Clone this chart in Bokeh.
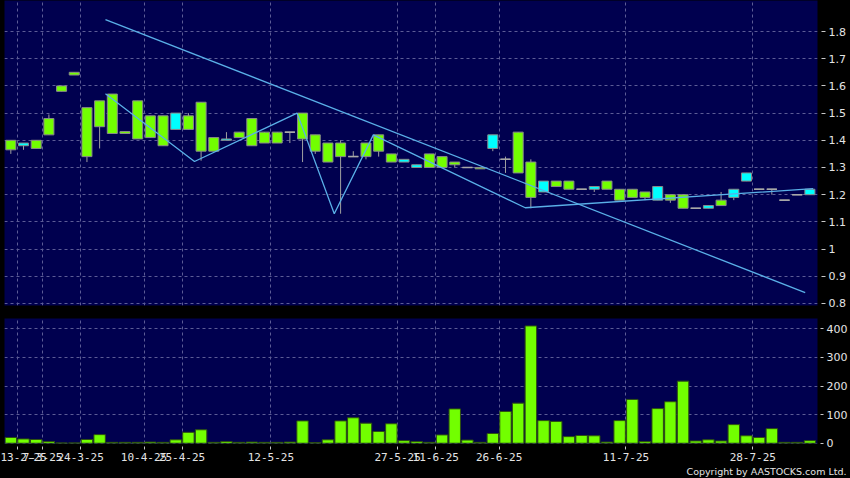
from bokeh.plotting import figure
from bokeh.layouts import column
from bokeh.models import FixedTicker, Range1d, ColumnDataSource, Title
from bokeh.embed import file_html
from bokeh.resources import INLINE
from bokeh.core.templates import get_env

# ---------------- data ----------------
idx = list(range(64))
opens = [1.365, 1.39, 1.37, 1.42, 1.58, 1.64, 1.34, 1.45, 1.425, 1.425,
         1.405, 1.41, 1.38, 1.50, 1.44, 1.36, 1.36, 1.405, 1.41, 1.38,
         1.39, 1.39, 1.43, 1.405, 1.36, 1.32, 1.34, 1.34, 1.34, 1.36,
         1.32, 1.33, 1.31, 1.30, 1.30, 1.31, 1.30, 1.295, 1.42, 1.33,
         1.28, 1.19, 1.25, 1.23, 1.22, 1.22, 1.23, 1.22, 1.18, 1.19,
         1.19, 1.23, 1.18, 1.15, 1.15, 1.16, 1.16, 1.22, 1.28, 1.22,
         1.22, 1.18, 1.20, 1.22]
highs = [1.40, 1.39, 1.40, 1.495, 1.60, 1.65, 1.52, 1.545, 1.57, 1.432,
         1.545, 1.49, 1.49, 1.50, 1.50, 1.54, 1.41, 1.43, 1.43, 1.48,
         1.43, 1.43, 1.43, 1.50, 1.42, 1.39, 1.40, 1.36, 1.39, 1.42,
         1.35, 1.33, 1.31, 1.35, 1.34, 1.32, 1.30, 1.30, 1.42, 1.34,
         1.43, 1.33, 1.25, 1.25, 1.25, 1.22, 1.23, 1.25, 1.22, 1.22,
         1.21, 1.23, 1.20, 1.20, 1.15, 1.16, 1.21, 1.22, 1.28, 1.22,
         1.22, 1.18, 1.20, 1.22]
lows = [1.35, 1.365, 1.37, 1.42, 1.58, 1.64, 1.32, 1.37, 1.425, 1.425,
        1.405, 1.41, 1.38, 1.44, 1.44, 1.325, 1.36, 1.40, 1.41, 1.38,
        1.39, 1.39, 1.39, 1.32, 1.35, 1.32, 1.13, 1.34, 1.33, 1.34,
        1.32, 1.32, 1.30, 1.30, 1.30, 1.30, 1.30, 1.295, 1.36, 1.28,
        1.28, 1.15, 1.21, 1.23, 1.22, 1.22, 1.21, 1.22, 1.18, 1.19,
        1.18, 1.18, 1.17, 1.15, 1.15, 1.15, 1.16, 1.18, 1.25, 1.22,
        1.20, 1.18, 1.20, 1.20]
closes = [1.40, 1.38, 1.40, 1.48, 1.60, 1.65, 1.52, 1.545, 1.57, 1.432,
          1.545, 1.49, 1.49, 1.44, 1.49, 1.54, 1.41, 1.40, 1.43, 1.48,
          1.43, 1.43, 1.43, 1.50, 1.42, 1.39, 1.39, 1.34, 1.39, 1.42,
          1.35, 1.32, 1.30, 1.35, 1.34, 1.32, 1.30, 1.30, 1.37, 1.33,
          1.43, 1.32, 1.21, 1.25, 1.25, 1.22, 1.22, 1.25, 1.22, 1.22,
          1.21, 1.18, 1.20, 1.20, 1.15, 1.15, 1.18, 1.19, 1.25, 1.22,
          1.22, 1.18, 1.20, 1.20]
volumes = [20, 15, 13, 6, 1, 1, 13, 30, 3, 3,
           3, 4, 3, 12, 38, 47, 3, 6, 3, 4,
           3, 3, 4, 78, 2, 12, 78, 89, 70, 41,
           68, 9, 6, 3, 29, 120, 11, 3, 34, 111,
           140, 410, 79, 76, 23, 27, 26, 4, 79, 153,
           6, 121, 145, 217, 8, 12, 8, 65, 26, 20,
           51, 3, 3, 9]

# trend lines (bar-index position, price)
zig_x = [7.46, 14.48, 22.57, 25.5, 28.58, 40.56, 63.26]
zig_y = [1.571, 1.322, 1.500, 1.130, 1.420, 1.152, 1.222]
trend_x = [7.46, 62.63]
trend_y = [1.844, 0.84]

price_tick_labels = ["0.8", "0.9", "1", "1.1", "1.2", "1.3", "1.4", "1.5", "1.6", "1.7", "1.8"]
vol_ticks = [0, 100, 200, 300, 400]
date_tick_index = [0, 2, 5, 10, 13, 20, 30, 33, 38, 48, 58]
date_tick_labels = ["13-2-25", "7-3-25", "24-3-25", "10-4-25", "25-4-25", "12-5-25",
                    "27-5-25", "11-6-25", "26-6-25", "11-7-25", "28-7-25"]

# ---------------- style ----------------
NAVY = "#00004f"
GREEN = "#72ff00"
CYAN = "#00ffff"
EDGE = "#8a8a8a"
GRID = "#5c5c96"
TXT = "#e4e4e4"
LINE = "#5ab0e8"
FONT = "DejaVu Sans"
MONO = "DejaVu Sans Mono"

up = [c > o for o, c in zip(opens, closes)]
down = [c < o for o, c in zip(opens, closes)]
flat = [c == o for o, c in zip(opens, closes)]
src = ColumnDataSource(dict(
    x=idx,
    top=[max(o, c) for o, c in zip(opens, closes)],
    bottom=[min(o, c) for o, c in zip(opens, closes)],
    high=highs, low=lows,
    color=[GREEN if u else (CYAN if d else EDGE) for u, d in zip(up, down)],
))
flat_src = ColumnDataSource(dict(
    x0=[i - 0.4 for i, f in zip(idx, flat) if f],
    x1=[i + 0.4 for i, f in zip(idx, flat) if f],
    y=[c for c, f in zip(closes, flat) if f],
))

xr = Range1d(-0.5, 63.6)
xticks = [i + 0.5 for i in date_tick_index]
pticks = [float(s) for s in price_tick_labels]


def style_axis(ax, font=FONT, size="11px"):
    ax.axis_line_color = None
    ax.major_tick_line_color = "#c8c8c8"
    ax.minor_tick_line_color = None
    ax.major_label_text_color = TXT
    ax.major_label_text_font = font
    ax.major_label_text_font_size = size


def set_tick_in(ax, n):
    try:
        ax.major_tick_in = n
    except Exception:
        ax.major_tick_in = 0


def style_grid(g, ticks):
    g.ticker = FixedTicker(ticks=ticks)
    g.grid_line_color = GRID
    g.grid_line_dash = "3 3"
    g.grid_line_width = 1


# ---------------- price panel ----------------
p = figure(width=850, height=318, x_range=xr, y_range=Range1d(0.7926, 1.914),
           output_backend="svg", toolbar_location=None,
           x_axis_location=None, y_axis_location="right",
           min_border_left=4, min_border_right=33, min_border_top=0, min_border_bottom=13,
           background_fill_color=NAVY, border_fill_color="black", outline_line_color=None)
p.yaxis.ticker = FixedTicker(ticks=pticks)
p.yaxis.major_label_overrides = {float(s): s for s in price_tick_labels}
style_axis(p.yaxis[0])
set_tick_in(p.yaxis[0], -4)
p.yaxis.major_tick_out = 8
p.yaxis.major_label_standoff = 3
style_grid(p.ygrid[0], pticks)
style_grid(p.xgrid[0], xticks)

p.segment(x0="x", y0="low", x1="x", y1="high", source=src, line_color="#a0a0a0", line_width=1)
p.vbar(x="x", top="top", bottom="bottom", width=0.79, source=src,
       fill_color="color", line_color=EDGE, line_width=1)
p.segment(x0="x0", y0="y", x1="x1", y1="y", source=flat_src, line_color="#a8a8a8", line_width=1.5)
p.line(zig_x, zig_y, line_color=LINE, line_width=1.3)
p.line(trend_x, trend_y, line_color=LINE, line_width=1.3)

# ---------------- volume panel ----------------
v = figure(width=850, height=160, x_range=xr, y_range=Range1d(-1, 436),
           output_backend="svg", toolbar_location=None,
           y_axis_location="right",
           min_border_left=4, min_border_right=33, min_border_top=0, min_border_bottom=35,
           background_fill_color=NAVY, border_fill_color="black", outline_line_color=None)
v.vbar(x=idx, top=volumes, bottom=0, width=0.9, fill_color=GREEN, line_color="#2e4f12", line_width=1)
v.yaxis.ticker = FixedTicker(ticks=vol_ticks)
style_axis(v.yaxis[0])
set_tick_in(v.yaxis[0], -3)
v.yaxis.major_tick_out = 6
v.yaxis.major_label_standoff = 3
style_grid(v.ygrid[0], vol_ticks)
v.xaxis.ticker = FixedTicker(ticks=xticks)
v.xaxis.major_label_overrides = {t: s for t, s in zip(xticks, date_tick_labels)}
style_axis(v.xaxis[0], font=MONO, size="11px")
set_tick_in(v.xaxis[0], -3)
v.xaxis.major_tick_out = 6
v.xaxis.major_label_standoff = 3
style_grid(v.xgrid[0], xticks)
v.add_layout(Title(text="Copyright by AASTOCKS.com Ltd.", align="right", offset=-29,
                   standoff=0, text_font=FONT, text_font_size="9.5px",
                   text_font_style="normal", text_color=TXT), "below")

layout = column(p, v, spacing=0, styles={"background-color": "black"})

TEMPLATE = get_env().from_string(
    '{% extends "file.html" %}'
    '{% block preamble %}<style>html, body {margin: 0; padding: 0; background: #000000;}</style>{% endblock %}'
)

open("out.html", "w").write(file_html(layout, INLINE, template=TEMPLATE))
